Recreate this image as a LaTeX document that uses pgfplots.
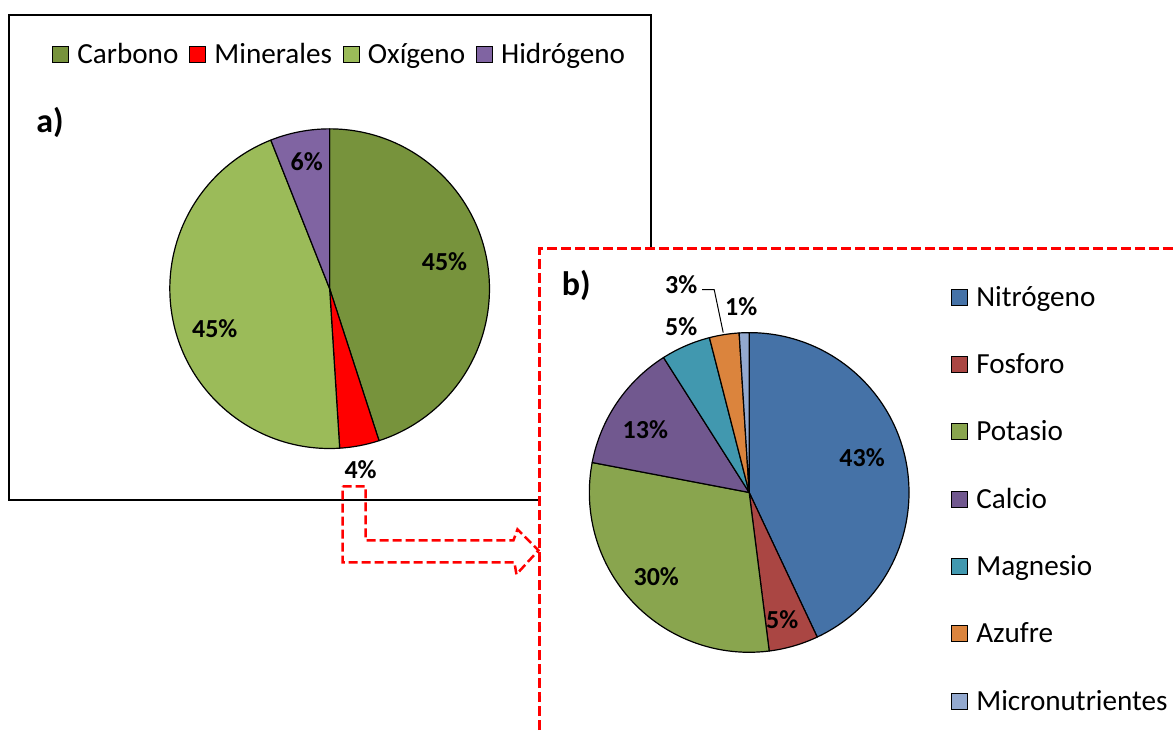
\documentclass[border=0pt]{standalone}
\usepackage{pgfplots}
\pgfplotsset{compat=1.18}
\usepackage{pgfplotstable}
\usepackage{fontspec}
\setmainfont{Carlito}

\definecolor{carb}{HTML}{77933C}
\definecolor{mine}{HTML}{FF0000}
\definecolor{oxi}{HTML}{9BBB59}
\definecolor{hid}{HTML}{8064A2}
\definecolor{nit}{HTML}{4572A7}
\definecolor{fos}{HTML}{AA4643}
\definecolor{pot}{HTML}{89A54E}
\definecolor{cal}{HTML}{71588F}
\definecolor{mag}{HTML}{4198AF}
\definecolor{azu}{HTML}{DB843D}
\definecolor{mic}{HTML}{93A9CF}

\pgfplotstableread{
name value col
Carbono 45 carb
Minerales 4 mine
Oxigeno 45 oxi
Hidrogeno 6 hid
}\dataA

\pgfplotstableread{
name value col
Nitrogeno 43 nit
Fosforo 5 fos
Potasio 30 pot
Calcio 13 cal
Magnesio 5 mag
Azufre 3 azu
Micronutrientes 1 mic
}\dataB

\newcommand\drawpie[4]{%
  \pgfplotstablegetrowsof{#1}%
  \pgfmathtruncatemacro\lastrow{\pgfplotsretval-1}%
  \xdef\cumang{90}%
  \foreach \i in {0,...,\lastrow}{%
    \pgfplotstablegetelem{\i}{value}\of{#1}\let\val\pgfplotsretval
    \pgfplotstablegetelem{\i}{col}\of{#1}\let\slicecol\pgfplotsretval
    \pgfmathsetmacro\endang{\cumang-3.6*\val}%
    \edef\tmp{\noexpand\filldraw[fill=\slicecol, draw=black, line width=0.6pt, line join=round] (axis cs:#2,#3) -- ++(\cumang:#4) arc[start angle=\cumang, end angle=\endang, radius=#4] -- cycle;}%
    \tmp
    \xdef\cumang{\endang}%
  }%
}

\newcommand\lbl{\fontsize{13}{15}\selectfont\bfseries}

\pgfplotsset{
  base/.style={
    scale only axis, width=587pt, height=365.5pt,
    xmin=0, xmax=1174, ymin=0, ymax=731, y dir=reverse,
    hide axis, clip=false,
    legend image code/.code={\draw[##1, draw=black, line width=0.5pt] (0pt,-4pt) rectangle (8pt,4pt);},
    legend style={draw=none, fill=none, inner xsep=0pt, inner ysep=0pt,
      font=\fontsize{14.6}{16}\selectfont,
      cells={anchor=west},
      nodes={inner sep=0pt, text height=11pt, text depth=2pt},
      /tikz/every odd column/.append style={column sep=4pt}},
  }
}

\begin{document}
\begin{tikzpicture}
\begin{axis}[base,
  legend columns=4,
  legend style={at={(axis description cs:0.0443,0.9439)}, anchor=north west,
    /tikz/every even column/.append style={column sep=5.5pt}},
]
\path (axis cs:0,0) rectangle (axis cs:1174,731);
\addlegendimage{fill=carb}\addlegendentry{Carbono}
\addlegendimage{fill=mine}\addlegendentry{Minerales}
\addlegendimage{fill=oxi}\addlegendentry{Oxígeno}
\addlegendimage{fill=hid}\addlegendentry{Hidrógeno}
\draw[black, line width=1pt] (axis cs:9,15) rectangle (axis cs:652,501);
\drawpie{\dataA}{330}{289}{80pt}
\node[font=\fontsize{17}{19}\selectfont\bfseries] at (axis cs:50,123) {a)};
\node[font=\lbl] at (axis cs:445,262) {45\%};
\node[font=\lbl] at (axis cs:215,329) {45\%};
\node[font=\lbl] at (axis cs:307,162) {6\%};
\node[font=\lbl] at (axis cs:361,470) {4\%};
\end{axis}

\begin{axis}[base,
  legend columns=1,
  legend style={at={(axis description cs:0.8109,0.6115)}, anchor=north west, row sep=20.7pt},
]
\path (axis cs:0,0) rectangle (axis cs:1174,731);
\fill[white] (axis cs:540,249) rectangle (axis cs:1174,731);
\draw[red, line width=1.3pt, dash pattern=on 5pt off 2pt] (axis cs:540,731) -- (axis cs:540,249) -- (axis cs:1174,249);
\draw[red, line width=1.25pt, dash pattern=on 4.5pt off 2pt, line join=miter]
  (axis cs:343,487) -- (axis cs:366,487) -- (axis cs:366,541) -- (axis cs:514,541)
  -- (axis cs:518,530) -- (axis cs:539,551) -- (axis cs:517,575) -- (axis cs:515,563)
  -- (axis cs:343,563) -- cycle;
\addlegendimage{fill=nit}\addlegendentry{Nitrógeno}
\addlegendimage{fill=fos}\addlegendentry{Fosforo}
\addlegendimage{fill=pot}\addlegendentry{Potasio}
\addlegendimage{fill=cal}\addlegendentry{Calcio}
\addlegendimage{fill=mag}\addlegendentry{Magnesio}
\addlegendimage{fill=azu}\addlegendentry{Azufre}
\addlegendimage{fill=mic}\addlegendentry{Micronutrientes}
\drawpie{\dataB}{750}{493}{80pt}
\draw[black, line width=0.5pt] (axis cs:703,290) -- (axis cs:715,290) -- (axis cs:724,333);
\node[font=\fontsize{17}{19}\selectfont\bfseries] at (axis cs:577,286) {b)};
\node[font=\lbl] at (axis cs:863,458) {43\%};
\node[font=\lbl] at (axis cs:783,620) {5\%};
\node[font=\lbl] at (axis cs:657,577) {30\%};
\node[font=\lbl] at (axis cs:646,430) {13\%};
\node[font=\lbl] at (axis cs:682,327) {5\%};
\node[font=\lbl] at (axis cs:682,285) {3\%};
\node[font=\lbl] at (axis cs:742,307) {1\%};
\end{axis}
\end{tikzpicture}
\end{document}
